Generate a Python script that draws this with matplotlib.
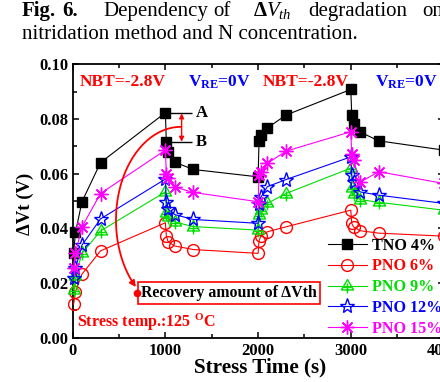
import numpy as np
import matplotlib
matplotlib.use("Agg")
import matplotlib.pyplot as plt
from matplotlib.path import Path
from matplotlib.patches import FancyArrowPatch

plt.rcParams.update({
    "font.family": ["Liberation Serif", "DejaVu Serif"],
    "font.weight": "bold",
    "mathtext.fontset": "custom",
    "mathtext.rm": "Liberation Serif:bold",
    "mathtext.bf": "Liberation Serif:bold",
    "mathtext.it": "Liberation Serif:italic:normal",
})

# cumulative time: stress 1 -> recovery 1 -> stress 2 -> recovery 2 (s)
time_s = [10, 30, 100, 300, 1000,
          1010, 1030, 1100, 1300, 2000,
          2010, 2030, 2100, 2300, 3000,
          3010, 3030, 3100, 3300, 4000]

tno_4 = [0.0310, 0.0385, 0.0497, 0.0640, 0.0823,
         0.0714, 0.0680, 0.0642, 0.0615, 0.0588,
         0.0718, 0.0740, 0.0767, 0.0814, 0.0908,
         0.0814, 0.0783, 0.0752, 0.0720, 0.0686]
pno_6 = [0.0122, 0.0168, 0.0232, 0.0317, 0.0420,
         0.0372, 0.0350, 0.0335, 0.0322, 0.0308,
         0.0354, 0.0371, 0.0387, 0.0405, 0.0466,
         0.0418, 0.0405, 0.0391, 0.0382, 0.0371]
pno_9 = [0.0174, 0.0225, 0.0308, 0.0390, 0.0533,
         0.0454, 0.0440, 0.0423, 0.0406, 0.0393,
         0.0448, 0.0466, 0.0491, 0.0527, 0.0620,
         0.0546, 0.0525, 0.0505, 0.0495, 0.0466]
pno_12 = [0.0216, 0.0253, 0.0338, 0.0434, 0.0580,
          0.0497, 0.0470, 0.0450, 0.0432, 0.0418,
          0.0488, 0.0513, 0.0552, 0.0578, 0.0661,
          0.0594, 0.0570, 0.0533, 0.0521, 0.0491]
pno_15 = [0.0253, 0.0310, 0.0405, 0.0527, 0.0686,
          0.0600, 0.0582, 0.0551, 0.0531, 0.0497,
          0.0594, 0.0606, 0.0637, 0.0682, 0.0753,
          0.0670, 0.0649, 0.0568, 0.0607, 0.0564]

labels = ["TNO 4%", "PNO 6%", "PNO 9%", "PNO 12%", "PNO 15%"]
colors = ["black", "#ff0000", "#00dd00", "#0000ff", "#ff00ff"]

# open triangle with a cross inside
tri_cross = Path(
    [(0, 1), (-0.87, -0.5), (0.87, -0.5), (0, 1),
     (0, 0.45), (0, -1.0),
     (-0.75, -0.15), (0.75, -0.15)],
    [Path.MOVETO, Path.LINETO, Path.LINETO, Path.CLOSEPOLY,
     Path.MOVETO, Path.LINETO,
     Path.MOVETO, Path.LINETO])

styles = [
    dict(marker="s", ms=7.5, mfc="black"),
    dict(marker="o", ms=8.5, mfc="none"),
    dict(marker=tri_cross, ms=10, mfc="none"),
    dict(marker="*", ms=11, mfc="none"),
    dict(marker=(8, 2, 0), ms=10),
]

W, H = 440, 382
fig = plt.figure(figsize=(W / 100, H / 100), dpi=100)

def fx(px):
    return px / W

def fy(py):
    return 1 - py / H

# caption
cap = 15
b1, b2 = 16, 39
fig.text(fx(22), fy(b1), "Fig.", fontsize=cap, weight="bold", va="baseline")
fig.text(fx(62), fy(b1), "6.", fontsize=cap, weight="bold", va="baseline")
fig.text(fx(103), fy(b1), "Dependency", fontsize=cap, weight="normal", va="baseline")
fig.text(fx(213), fy(b1), "of", fontsize=cap, weight="normal", va="baseline")
fig.text(fx(253), fy(b1), r"$\mathit{ΔV}_{\mathit{th}}$", fontsize=cap, va="baseline")
fig.text(fx(308), fy(b1), "degradation", fontsize=cap, weight="normal", va="baseline")
fig.text(fx(422), fy(b1), "on", fontsize=cap, weight="normal", va="baseline")
fig.text(fx(22), fy(b2), "nitridation method and N concentration.",
         fontsize=cap, weight="normal", va="baseline")

ax = fig.add_axes([fx(72.7), fy(337.5), 370.8 / W, 273.2 / H])
ax.set_xlim(0, 4000)
ax.set_ylim(0, 0.10)

series = [tno_4, pno_6, pno_9, pno_12, pno_15]
for vals, lab, col, st in zip(series, labels, colors, styles):
    ax.plot(time_s, vals, color=col, lw=0.8, label=lab,
            mec=col, mew=1.0, clip_on=False, zorder=3, **st)

ax.set_xticks([0, 1000, 2000, 3000, 4000])
ax.set_xticks(np.arange(500, 4000, 1000), minor=True)
ax.set_yticks(np.arange(0, 0.101, 0.02))
ax.set_yticks(np.arange(0.01, 0.1, 0.02), minor=True)
ax.yaxis.set_major_formatter(plt.FormatStrFormatter("%.2f"))
ax.tick_params(which="both", direction="in", top=True, right=True,
               width=1.1, labelsize=12)
ax.tick_params(which="major", length=4.5)
ax.tick_params(which="minor", length=3)
ax.tick_params(axis="x", pad=4)
ax.tick_params(axis="y", pad=3)
for s in ax.spines.values():
    s.set_linewidth(1.3)

ax.set_xlabel("Stress Time (s)", fontsize=15.2, weight="bold")
ax.xaxis.set_label_coords(0.506, -0.074)
ax.set_ylabel("ΔVt (V)", fontsize=13.5, weight="bold")
ax.yaxis.set_label_coords(-0.104, 0.49)

# stress / recovery bias labels
for x0 in (80, 2052):
    ax.text(x0, 0.0935, "NBT=-2.8V", color="red", fontsize=12.5, va="center")
for x0 in (1240, 3262):
    ax.text(x0, 0.0935, r"$\mathbf{V_{RE}}$=0V", color="blue", fontsize=12.5, va="center")

# A / B markers on the first recovery step
ax.hlines([tno_4[4], tno_4[5]], time_s[4], 1290, color="black", lw=1.0, zorder=2)
ax.text(1330, tno_4[4], "A", fontsize=12, va="center")
ax.text(1330, tno_4[5], "B", fontsize=12, va="center")
ax.annotate("", xy=(1175, tno_4[5]), xytext=(1175, tno_4[4]),
            arrowprops=dict(arrowstyle="<|-|>", color="red", lw=1.0,
                            mutation_scale=7, shrinkA=0.5, shrinkB=0.5))

# curved pointer towards the recovery label
theta = np.radians(np.linspace(90, 226, 60))
cx, cy, rx, ry = 1168, 0.043, 701, 0.0341
pts = np.column_stack([cx + rx * np.cos(theta), cy + ry * np.sin(theta)])
curve = FancyArrowPatch(path=Path(pts), arrowstyle="-|>", mutation_scale=9,
                        color="red", lw=1.3, zorder=4)
ax.add_patch(curve)

ax.text(735, 0.0163, "Recovery amount of ΔVth", fontsize=11.4, va="center",
        ha="left", zorder=5,
        bbox=dict(boxstyle="square,pad=0.18", fc="white", ec="red", lw=1.2))
ax.plot([693], [0.0163], "o", color="red", ms=4.5, zorder=6)

ax.text(46, 0.0057, r"Stress temp.:125 $^{\mathrm{O}}$C", color="red",
        fontsize=11.5, va="center")

leg = ax.legend(loc="upper left", bbox_to_anchor=(fx(328), fy(237.5)),
                bbox_transform=fig.transFigure, frameon=False,
                handlelength=2.4, handletextpad=0.35, labelspacing=0.3,
                borderpad=0, borderaxespad=0, numpoints=1,
                prop=dict(size=11.6, weight="bold"))
for txt, col in zip(leg.get_texts(), colors):
    txt.set_color(col)

fig.savefig("out.png", dpi=100)
